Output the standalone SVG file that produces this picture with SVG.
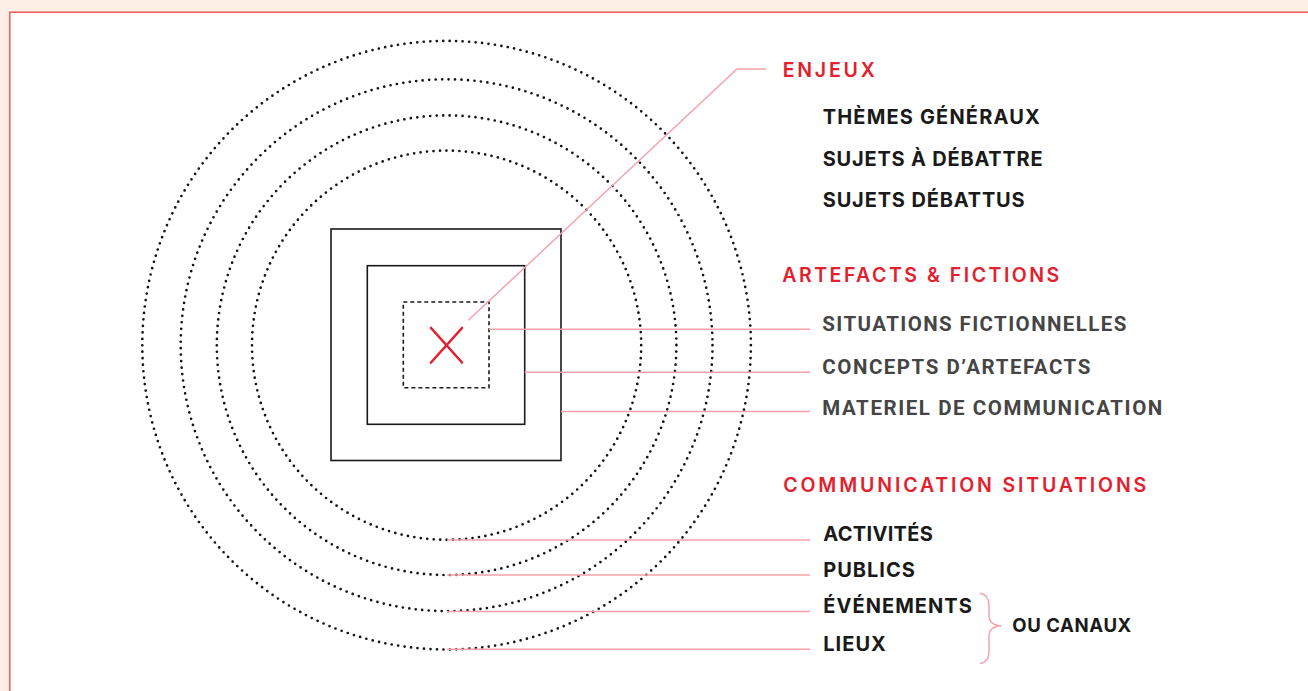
<svg xmlns="http://www.w3.org/2000/svg" width="1308" height="691" viewBox="0 0 1308 691">
<style>
.ring{fill:none;stroke:#141414;stroke-width:2.7;stroke-linecap:round;stroke-dasharray:0 6.5}
.sq{fill:none;stroke:#1a1a1a;stroke-width:1.6}
.lead{fill:none;stroke:#f4a1aa;stroke-width:1.4}
.h{font-family:Inter,"Liberation Sans",sans-serif;font-weight:600;font-size:19.5px;fill:#e4202e}
.b{font-family:Inter,"Liberation Sans",sans-serif;font-weight:700;font-size:20px;fill:#1a1a1a}
.g{font-family:Roboto,"Liberation Sans",sans-serif;font-weight:700;font-size:20.5px;fill:#454545}
</style>
<rect x="0" y="0" width="1308" height="691" fill="#fdeee6"/>
<rect x="9.75" y="12.25" width="1400" height="800" fill="#ffffff" stroke="#f26060" stroke-width="1.6"/>
<g id="rings">
<circle class="ring" cx="446.6" cy="345.2" r="304.3"/>
<circle class="ring" cx="446.6" cy="345.2" r="265.9"/>
<circle class="ring" cx="446.6" cy="345.2" r="229.8"/>
<circle class="ring" cx="446.6" cy="345.2" r="194.6"/>
</g>
<g id="squares">
<rect class="sq" x="331" y="229" width="230" height="231.5"/>
<rect class="sq" x="367.3" y="265.7" width="157.4" height="158.6"/>
<rect class="sq" x="403.3" y="302" width="85.7" height="85.7" stroke-dasharray="4 3"/>
</g>
<g id="center-x" stroke="#e4202e" stroke-width="2.6" stroke-linecap="round">
<line x1="431" y1="328" x2="462" y2="362.5"/>
<line x1="462" y1="328" x2="431" y2="362.5"/>
</g>
<g id="connectors">
<polyline class="lead" points="468.3,320.3 737,69 766,69"/>
<line class="lead" x1="489" y1="329.3" x2="810" y2="329.3"/>
<line class="lead" x1="524.7" y1="372.3" x2="810" y2="372.3"/>
<line class="lead" x1="561" y1="411.5" x2="810" y2="411.5"/>
<line class="lead" x1="447" y1="540" x2="810" y2="540"/>
<line class="lead" x1="447" y1="575" x2="810" y2="575"/>
<line class="lead" x1="447" y1="611.5" x2="810" y2="611.5"/>
<line class="lead" x1="447" y1="649.3" x2="810" y2="649.3"/>
<path class="lead" d="M980,593.3 Q989,594.5 989,606 L989,615 Q989,625.5 1001.5,625.8 Q989,626.2 989,637 L989,651 Q989,662.5 980,663.5"/>
</g>
<g id="enjeux">
<text class="h" x="782.7" y="77.3" textLength="92" lengthAdjust="spacing">ENJEUX</text>
<text class="b" x="822.7" y="124" textLength="217" lengthAdjust="spacing">THÈMES GÉNÉRAUX</text>
<text class="b" x="822.7" y="166" textLength="220" lengthAdjust="spacing">SUJETS À DÉBATTRE</text>
<text class="b" x="822.7" y="206.5" textLength="202" lengthAdjust="spacing">SUJETS DÉBATTUS</text>
</g>
<g id="artefacts">
<text class="h" x="782.3" y="281.7" textLength="277" lengthAdjust="spacing">ARTEFACTS &amp; FICTIONS</text>
<text class="g" x="822.3" y="330.7" textLength="304" lengthAdjust="spacing">SITUATIONS FICTIONNELLES</text>
<text class="g" x="822.3" y="374.3" textLength="268" lengthAdjust="spacing">CONCEPTS D’ARTEFACTS</text>
<text class="g" x="822.3" y="415" textLength="340" lengthAdjust="spacing">MATERIEL DE COMMUNICATION</text>
</g>
<g id="communication">
<text class="h" x="783.3" y="492.3" textLength="363" lengthAdjust="spacing">COMMUNICATION SITUATIONS</text>
<text class="b" x="823.3" y="541" textLength="109.5" lengthAdjust="spacing">ACTIVITÉS</text>
<text class="b" x="823.3" y="576.7" textLength="91.5" lengthAdjust="spacing">PUBLICS</text>
<text class="b" x="823.3" y="613" textLength="148.5" lengthAdjust="spacing">ÉVÉNEMENTS</text>
<text class="b" x="823.3" y="650.5" textLength="62.5" lengthAdjust="spacing">LIEUX</text>
<text class="b" x="1012.3" y="631.7" style="font-size:18.6px" textLength="119" lengthAdjust="spacing">OU CANAUX</text>
</g>
</svg>
